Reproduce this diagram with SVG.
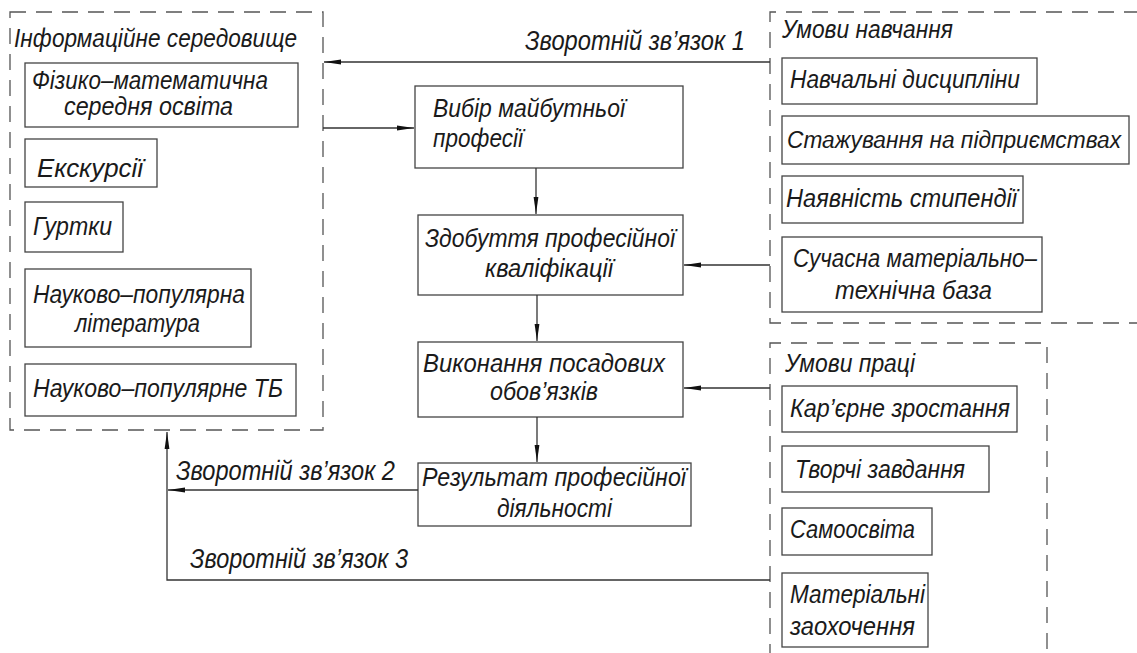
<svg xmlns="http://www.w3.org/2000/svg" width="1137" height="653" viewBox="0 0 1137 653">
<style>
.bg{fill:#fff}
.box{fill:#fff;stroke:#444;stroke-width:1.3}
.grp{fill:none;stroke:#555;stroke-width:1.3;stroke-dasharray:16 10}
.ln{fill:none;stroke:#333;stroke-width:1.3}
text{font-family:"Liberation Sans",Arial,sans-serif;font-style:italic;font-size:25px;fill:#1a1a1a}
.lbl{font-size:27px}
.sm{font-size:23px}
</style>
<defs>
<marker id="ah" markerUnits="userSpaceOnUse" markerWidth="18" markerHeight="8" refX="17" refY="4" orient="auto">
<path d="M0,1.6 L17,4 L0,6.4 Z" fill="#111"/>
</marker>
</defs>
<rect class="bg" x="0" y="0" width="1137" height="653"/>

<g id="grp-info">
<rect class="grp" x="10" y="12" width="313" height="418"/>
<text x="14" y="47" textLength="283" lengthAdjust="spacingAndGlyphs">Інформаційне середовище</text>
</g>
<g id="n-fizmat"><rect class="box" x="25" y="63" width="273" height="64"/>
<text x="32" y="89" textLength="236" lengthAdjust="spacingAndGlyphs">Фізико–математична</text>
<text x="64" y="115" textLength="169" lengthAdjust="spacingAndGlyphs">середня освіта</text></g>
<g id="n-excursii"><rect class="box" x="25" y="139" width="132" height="48"/>
<text x="37" y="177" textLength="106" lengthAdjust="spacingAndGlyphs">Екскурсії</text></g>
<g id="n-gurtky"><rect class="box" x="25" y="202" width="98" height="50"/>
<text x="33" y="235" textLength="79" lengthAdjust="spacingAndGlyphs">Гуртки</text></g>
<g id="n-lit"><rect class="box" x="25" y="269" width="226" height="78"/>
<text x="33" y="303" textLength="212" lengthAdjust="spacingAndGlyphs">Науково–популярна</text>
<text x="75" y="332" textLength="125" lengthAdjust="spacingAndGlyphs">література</text></g>
<g id="n-tb"><rect class="box" x="25" y="364" width="271" height="52"/>
<text x="33" y="397" textLength="250" lengthAdjust="spacingAndGlyphs">Науково–популярне ТБ</text></g>

<g id="n-vybir"><rect class="box" x="415" y="86" width="268" height="82"/>
<text x="433" y="117" textLength="192" lengthAdjust="spacingAndGlyphs">Вибір майбутньої</text>
<text x="433" y="147" textLength="90" lengthAdjust="spacingAndGlyphs">професії</text></g>
<g id="n-zdobuttia"><rect class="box" x="418" y="215" width="265" height="80"/>
<text x="425" y="247" textLength="250" lengthAdjust="spacingAndGlyphs">Здобуття професійної</text>
<text x="485" y="277" textLength="128" lengthAdjust="spacingAndGlyphs">кваліфікації</text></g>
<g id="n-vykonannia"><rect class="box" x="418" y="342" width="265" height="75"/>
<text x="423" y="372" textLength="242" lengthAdjust="spacingAndGlyphs">Виконання посадових</text>
<text x="490" y="400" textLength="108" lengthAdjust="spacingAndGlyphs">обов’язків</text></g>
<g id="n-rezultat"><rect class="box" x="418" y="463" width="273" height="63"/>
<text x="422" y="486" textLength="264" lengthAdjust="spacingAndGlyphs">Результат професійної</text>
<text x="497" y="517" textLength="115" lengthAdjust="spacingAndGlyphs">діяльності</text></g>

<g id="grp-navch">
<path class="grp" d="M1140,12 H770 V323 H1140"/>
<text x="782" y="38" textLength="171" lengthAdjust="spacingAndGlyphs">Умови навчання</text>
</g>
<g id="n-dysc"><rect class="box" x="782" y="58" width="255" height="46"/>
<text x="790" y="88" textLength="230" lengthAdjust="spacingAndGlyphs">Навчальні дисципліни</text></g>
<g id="n-stazh"><rect class="box" x="782" y="116" width="347" height="48"/>
<text class="sm" x="787" y="148" textLength="334" lengthAdjust="spacingAndGlyphs">Стажування на підприємствах</text></g>
<g id="n-styp"><rect class="box" x="782" y="176" width="241" height="47"/>
<text x="786" y="207" textLength="231" lengthAdjust="spacingAndGlyphs">Наявність стипендії</text></g>
<g id="n-baza"><rect class="box" x="782" y="237" width="260" height="75"/>
<text x="793" y="267" textLength="244" lengthAdjust="spacingAndGlyphs">Сучасна матеріально–</text>
<text x="835" y="299" textLength="157" lengthAdjust="spacingAndGlyphs">технічна база</text></g>

<g id="grp-pratsi">
<path class="grp" d="M770,660 V343 H1047 V660"/>
<text x="785" y="372" textLength="130" lengthAdjust="spacingAndGlyphs">Умови праці</text>
</g>
<g id="n-karier"><rect class="box" x="782" y="386" width="235" height="46"/>
<text x="790" y="417" textLength="220" lengthAdjust="spacingAndGlyphs">Кар’єрне зростання</text></g>
<g id="n-tvorchi"><rect class="box" x="782" y="446" width="207" height="46"/>
<text x="795" y="478" textLength="170" lengthAdjust="spacingAndGlyphs">Творчі завдання</text></g>
<g id="n-samoosvita"><rect class="box" x="782" y="508" width="150" height="47"/>
<text x="790" y="538" textLength="125" lengthAdjust="spacingAndGlyphs">Самоосвіта</text></g>
<g id="n-zaohoch"><rect class="box" x="782" y="573" width="146" height="74"/>
<text x="790" y="603" textLength="135" lengthAdjust="spacingAndGlyphs">Матеріальні</text>
<text x="790" y="635" textLength="125" lengthAdjust="spacingAndGlyphs">заохочення</text></g>

<g id="connectors">
<path class="ln" d="M770,62 H324" marker-end="url(#ah)"/>
<path class="ln" d="M323,128 H414" marker-end="url(#ah)"/>
<path class="ln" d="M536,168 V214" marker-end="url(#ah)"/>
<path class="ln" d="M537,295 V341" marker-end="url(#ah)"/>
<path class="ln" d="M537,417 V462" marker-end="url(#ah)"/>
<path class="ln" d="M770,265 H684" marker-end="url(#ah)"/>
<path class="ln" d="M770,388 H684" marker-end="url(#ah)"/>
<path class="ln" d="M418,490 H168" marker-end="url(#ah)"/>
<path class="ln" d="M770,580 H167 V432" marker-end="url(#ah)"/>
<text class="lbl" x="525" y="50" textLength="220" lengthAdjust="spacingAndGlyphs">Зворотній зв’язок 1</text>
<text class="lbl" x="176" y="480" textLength="219" lengthAdjust="spacingAndGlyphs">Зворотній зв’язок 2</text>
<text class="lbl" x="190" y="568" textLength="218" lengthAdjust="spacingAndGlyphs">Зворотній зв’язок 3</text>
</g>
</svg>
